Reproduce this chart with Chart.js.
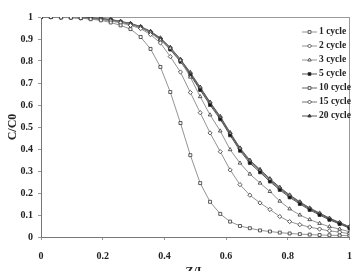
<!DOCTYPE html>
<html>
<head>
<meta charset="utf-8">
<script src="https://cdn.jsdelivr.net/npm/chart.js@4"></script>
<style>
  html, body { margin: 0; padding: 0; background: #fff; }
  #wrap { width: 362px; height: 271px; }
</style>
</head>
<body>
<div id="wrap"><canvas id="chart"></canvas></div>
<script>
// Z/L positions of the sampled points
const zL = [0, 0.032, 0.065, 0.097, 0.129, 0.161, 0.194, 0.226, 0.258, 0.290, 0.323,
  0.355, 0.387, 0.419, 0.452, 0.484, 0.516, 0.548, 0.581, 0.613, 0.645, 0.677,
  0.710, 0.742, 0.774, 0.806, 0.839, 0.871, 0.903, 0.935, 0.968, 1];

const cycle1 = [1, 1, 0.998, 0.997, 0.995, 0.99, 0.985, 0.975, 0.962, 0.945, 0.909, 0.855,
  0.773, 0.659, 0.518, 0.372, 0.245, 0.16, 0.105, 0.07, 0.05, 0.04, 0.03, 0.025, 0.02,
  0.016, 0.013, 0.011, 0.009, 0.008, 0.007, 0.006];
const cycle2 = [1, 1, 0.999, 0.997, 0.995, 0.992, 0.988, 0.982, 0.973, 0.962, 0.947, 0.92,
  0.882, 0.82, 0.75, 0.657, 0.565, 0.473, 0.388, 0.305, 0.238, 0.19, 0.155, 0.125, 0.093,
  0.07, 0.056, 0.045, 0.036, 0.028, 0.022, 0.015];
const cycle3 = [1, 1, 0.999, 0.998, 0.996, 0.993, 0.99, 0.985, 0.978, 0.968, 0.953, 0.93,
  0.896, 0.858, 0.803, 0.727, 0.638, 0.555, 0.482, 0.397, 0.336, 0.286, 0.245, 0.207, 0.163,
  0.128, 0.1, 0.079, 0.062, 0.047, 0.036, 0.024];
const cycle5 = [1, 1, 0.999, 0.998, 0.997, 0.995, 0.991, 0.986, 0.977, 0.967, 0.952, 0.928,
  0.897, 0.852, 0.797, 0.736, 0.668, 0.6, 0.535, 0.462, 0.392, 0.336, 0.294, 0.252, 0.214,
  0.18, 0.15, 0.123, 0.1, 0.078, 0.059, 0.04];
const cycle10 = [1, 1, 0.999, 0.998, 0.997, 0.995, 0.992, 0.987, 0.978, 0.968, 0.954, 0.931,
  0.9, 0.856, 0.802, 0.741, 0.674, 0.606, 0.541, 0.468, 0.398, 0.342, 0.3, 0.258, 0.219,
  0.185, 0.155, 0.127, 0.104, 0.081, 0.062, 0.043];
const cycle15 = [1, 1, 0.999, 0.999, 0.997, 0.996, 0.992, 0.988, 0.979, 0.97, 0.955, 0.933,
  0.903, 0.86, 0.806, 0.745, 0.678, 0.61, 0.545, 0.472, 0.402, 0.346, 0.304, 0.262, 0.223,
  0.189, 0.158, 0.13, 0.107, 0.084, 0.064, 0.045];
const cycle20 = [1, 1, 1, 0.999, 0.998, 0.996, 0.993, 0.989, 0.98, 0.971, 0.957, 0.935,
  0.905, 0.862, 0.808, 0.748, 0.681, 0.613, 0.548, 0.475, 0.405, 0.349, 0.307, 0.265, 0.226,
  0.191, 0.16, 0.132, 0.109, 0.086, 0.066, 0.047];

const seriesNames = ['1 cycle', '2 cycle', '3 cycle', '5 cycle', '10 cycle', '15 cycle', '20 cycle'];
const seriesData = [cycle1, cycle2, cycle3, cycle5, cycle10, cycle15, cycle20];
const markers = ['rect', 'rectRot', 'triangle', 'rect', 'rect', 'rectRot', 'triangle'];
const markerFill = ['#fff', '#fff', '#fff', '#111', '#fff', '#fff', '#333'];
const lineColors = ['#888', '#888', '#888', '#444', '#555', '#666', '#444'];

const serif = 'Liberation Serif, Times New Roman, serif';

const datasets = seriesNames.map((name, i) => ({
  label: name,
  data: zL.map((z, j) => ({ x: z, y: seriesData[i][j] })),
  borderColor: lineColors[i],
  borderWidth: 0.9,
  pointStyle: markers[i],
  pointRadius: 2.1,
  pointBorderWidth: 0.8,
  pointBorderColor: '#333',
  pointBackgroundColor: markerFill[i],
  tension: 0
}));

// legend inside the plot, top right: short line with marker, then the label
const sideLegend = {
  id: 'sideLegend',
  afterDraw(chart) {
    const ctx = chart.ctx;
    ctx.save();
    chart.data.datasets.forEach((ds, i) => {
      const y = 32 + i * 14;
      ctx.strokeStyle = ds.borderColor;
      ctx.lineWidth = 0.9;
      ctx.beginPath();
      ctx.moveTo(302, y);
      ctx.lineTo(317, y);
      ctx.stroke();
      ctx.fillStyle = ds.pointBackgroundColor;
      ctx.strokeStyle = '#333';
      ctx.lineWidth = 0.8;
      Chart.helpers.drawPoint(ctx, { pointStyle: ds.pointStyle, radius: 2, borderWidth: 0.8 }, 309.5, y);
      ctx.fillStyle = '#222';
      ctx.font = 'bold 9.5px ' + serif;
      ctx.textBaseline = 'middle';
      ctx.textAlign = 'left';
      ctx.fillText(ds.label, 319, y);
    });
    ctx.restore();
  }
};

const tickLabel = v => String(Math.round(v * 10) / 10);

new Chart(document.getElementById('chart'), {
  type: 'line',
  data: { datasets },
  options: {
    responsive: true,
    maintainAspectRatio: false,
    animation: false,
    layout: { padding: { top: 17, right: 5, left: 0, bottom: 0 } },
    plugins: {
      legend: { display: false },
      tooltip: { enabled: false }
    },
    scales: {
      x: {
        type: 'linear',
        min: 0,
        max: 1,
        afterFit(scale) { scale.height = 34; },
        ticks: {
          stepSize: 0.2,
          padding: 10,
          color: '#222',
          font: { family: serif, size: 10, weight: 'bold' },
          callback: tickLabel
        },
        grid: {
          drawOnChartArea: true,
          tickLength: 3,
          color: ctx => (ctx.tick && ctx.tick.value === 1) ? '#999' : 'rgba(0,0,0,0)',
          tickColor: '#999'
        },
        border: { color: '#777', width: 1 },
        title: {
          display: true,
          text: 'Z/L',
          color: '#222',
          font: { family: serif, size: 12, weight: 'bold' },
          padding: { top: 0, bottom: -8 }
        }
      },
      y: {
        min: 0,
        max: 1,
        afterFit(scale) { scale.width = 41; },
        ticks: {
          stepSize: 0.1,
          padding: 5,
          color: '#222',
          font: { family: serif, size: 10, weight: 'bold' },
          callback: tickLabel
        },
        grid: {
          tickLength: 3,
          color: ctx => (ctx.tick && ctx.tick.value === 1) ? '#999' : 'rgba(0,0,0,0)',
          tickColor: '#999'
        },
        border: { color: '#777', width: 1 },
        title: {
          display: true,
          text: 'C/C0',
          color: '#222',
          font: { family: serif, size: 12, weight: 'bold' },
          padding: { top: 6, bottom: 0 }
        }
      }
    }
  },
  plugins: [sideLegend]
});
</script>
</body>
</html>
